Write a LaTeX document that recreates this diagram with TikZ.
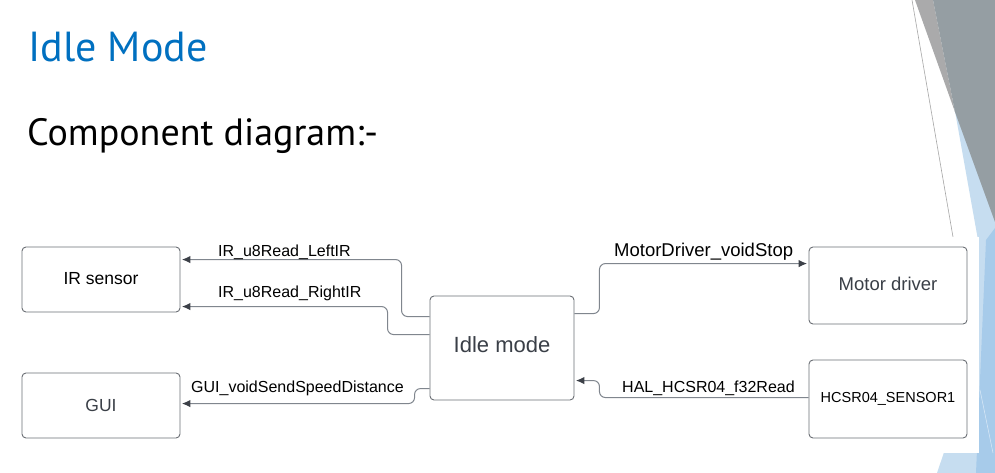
\documentclass[tikz,border=0pt]{standalone}
\usepackage{fontspec}
\setmainfont{Liberation Sans}
\newfontfamily\titlefont{PT Sans}
\usetikzlibrary{calc,arrows.meta}
\definecolor{titleblue}{HTML}{0070C0}
\definecolor{boxline}{HTML}{6B6F75}
\definecolor{connline}{HTML}{80868E}
\definecolor{tipgray}{HTML}{3C4048}
\definecolor{txtgray}{HTML}{3A3F47}
\definecolor{facetdark}{HTML}{959EA3}
\definecolor{facetlight}{HTML}{AAAAAB}
\definecolor{facetblue}{HTML}{C6DDF0}
\definecolor{facetblue2}{HTML}{A7CBEA}
\tikzset{
  compbox/.style={draw=boxline, line width=0.9pt, rounded corners=4pt, fill=white,
    inner sep=0pt, align=center},
  conn/.style={draw=connline, line width=1pt, rounded corners=6pt,
    -{Latex[length=8.5pt,width=7.5pt,fill=tipgray,color=tipgray]}, shorten >=1.5pt},
  lbl/.style={anchor=base west, inner sep=0pt, font=\fontsize{16}{18}\selectfont}
}
\begin{document}
\begin{tikzpicture}[x=1pt,y=-1pt]
\useasboundingbox (0,0) rectangle (995,473);
\fill[white] (0,0) rectangle (995,473);
% facet background decoration
\fill[facetblue] (953,100) -- (995,100) -- (995,473) -- (937,473) -- (955,420) -- (978,240) -- cycle;
\fill[facetblue2] (986,240) -- (995,228) -- (995,473) -- (976,473) -- cycle;
\fill[facetlight] (915,0) -- (933,0) -- (955,112) -- cycle;
\fill[facetdark] (933,0) -- (995,0) -- (995,222) -- (955,112) -- cycle;
\draw[gray!70, line width=0.6pt] (912,0) -- (953,237);
\draw[white!60!facetblue2, line width=0.5pt] (980,390) -- (993,453);
% white diagram area
\fill[white] (10,237) rectangle (979,453);
% titles
\node[anchor=base west, inner sep=0pt, text=titleblue, font=\titlefont\fontsize{42}{46}\selectfont] (title) at (28,62) {Idle Mode};
\node[anchor=base west, inner sep=0pt, font=\titlefont\fontsize{38}{42}\selectfont] (subtitle) at (27,146) {Component diagram:-};
% boxes
\node[compbox, minimum width=158, minimum height=65, text depth=3pt, font=\fontsize{17.5}{20}\selectfont] (ir) at (101,279.5) {IR sensor};
\node[compbox, minimum width=158, minimum height=65, text=txtgray, font=\fontsize{17.5}{20}\selectfont] (gui) at (101,405.5) {GUI};
\node[compbox, minimum width=144, minimum height=104, text depth=7pt, text=txtgray, font=\fontsize{22}{26}\selectfont] (idle) at (502,348) {Idle mode};
\node[compbox, minimum width=158, minimum height=77, text depth=4pt, text=txtgray, font=\fontsize{18.5}{22}\selectfont] (motor) at (888,285.5) {Motor driver};
\node[compbox, minimum width=158, minimum height=78, font=\fontsize{14.5}{17}\selectfont] (hcsr) at (888,399) {HCSR04\_SENSOR1};
% connectors
\draw[conn] ($(idle.north west)+(0,21)$) -- ++(-28,0) |- ($(ir.north east)+(0,13)$);
\draw[conn] ($(idle.north west)+(0,39)$) -- ++(-42,0) |- ($(ir.north east)+(0,60)$);
\draw[conn] ($(idle.north west)+(0,93)$) -- ++(-15,0) |- ($(gui.north east)+(0,31)$);
\draw[conn] ($(idle.north east)+(0,18)$) -- ++(25,0) |- ($(motor.north west)+(0,17)$);
\draw[conn] ($(hcsr.north west)+(0,38)$) -| ($(idle.north east)+(25,85)$) -- ($(idle.north east)+(0,85)$);
% labels
\node[lbl] (l1) at (218,256) {IR\_u8Read\_LeftIR};
\node[lbl] (l2) at (218,297.5) {IR\_u8Read\_RightIR};
\node[lbl] (l3) at (191,392.5) {GUI\_voidSendSpeedDistance};
\node[lbl, font=\fontsize{18.5}{21}\selectfont] (l4) at (614,256.5) {MotorDriver\_voidStop};
\node[lbl] (l5) at (622,392.3) {HAL\_HCSR04\_f32Read};
\end{tikzpicture}
\end{document}
